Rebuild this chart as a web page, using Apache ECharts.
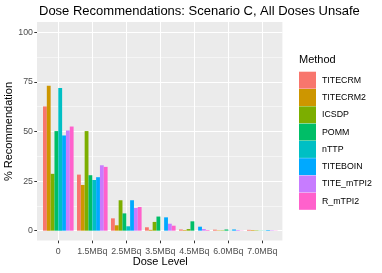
<!DOCTYPE html>
<html><head><meta charset="utf-8">
<script src="https://cdn.jsdelivr.net/npm/echarts@6/dist/echarts.min.js"></script>
<style>html,body{margin:0;padding:0;background:#fff}#c{width:382px;height:273px}</style>
</head><body><div id="c"></div>
<script>
var doses = ['0', '1.5MBq', '2.5MBq', '3.5MBq', '4.5MBq', '6.0MBq', '7.0MBq'];
var methods = ['TITECRM', 'TITECRM2', 'ICSDP', 'POMM', 'nTTP', 'TITEBOIN', 'TITE_mTPI2', 'R_mTPI2'];
var colors = ['#F8766D', '#CD9600', '#7CAE00', '#00BE67', '#00BFC4', '#00A9FF', '#C77CFF', '#FF61CC'];
var TITECRM    = [62.5, 28.2, 6.2, 1.7, 0.6, 0.5, 0.4];
var TITECRM2   = [72.9, 23.0, 2.7, 0.4, 0.3, 0.2, 0.3];
var ICSDP      = [28.6, 50.1, 15.3, 4.4, 0.8, 0.2, 0.2];
var POMM       = [50.1, 27.9, 8.7, 7.1, 4.7, 0.6, 0.1];
var nTTP       = [71.8, 25.5, 2.2, 0.0, 0.0, 0.1, 0.1];
var TITEBOIN   = [47.9, 26.9, 15.3, 6.7, 2.0, 0.6, 0.3];
var TITE_mTPI2 = [50.4, 32.9, 11.4, 3.5, 0.8, 0.3, 0.2];
var R_mTPI2    = [52.4, 32.1, 11.9, 2.5, 0.3, 0.1, 0.1];
var yTicks = [0, 25, 50, 75, 100];
var values = [TITECRM, TITECRM2, ICSDP, POMM, nTTP, TITEBOIN, TITE_mTPI2, R_mTPI2];

var FONT = 'Liberation Sans';
var chart = echarts.init(document.getElementById('c'), null, {renderer: 'canvas'});
var series = methods.map(function (m, i) {
  return {
    name: m, type: 'bar', xAxisIndex: 2, yAxisIndex: 2,
    data: values[i], barGap: '0%', barCategoryGap: '10%',
    itemStyle: {color: colors[i], borderWidth: 0},
    emphasis: {disabled: true}, animation: false
  };
});
chart.setOption({
  animation: false,
  textStyle: {fontFamily: FONT},
  title: [
    {text: 'Dose Recommendations: Scenario C, All Doses Unsafe', left: 39, top: 4.5, padding: 0,
     textStyle: {fontFamily: FONT, fontSize: 13, fontWeight: 'normal', color: '#000'}},
    {text: 'Method', left: 299, top: 54.5, padding: 0,
     textStyle: {fontFamily: FONT, fontSize: 11, fontWeight: 'normal', color: '#000'}}
  ],
  legend: {
    orient: 'vertical', left: 299, top: 71.7, padding: 0, itemWidth: 17, itemHeight: 17, itemGap: 0.3,
    icon: 'rect', data: methods, selectedMode: false,
    textStyle: {fontFamily: FONT, fontSize: 8.8, color: '#000', padding: [0, 0, 0, 1]}
  },
  grid: [
    {left: 37, top: 22, width: 245.4, height: 218.6, show: true, backgroundColor: '#EBEBEB', borderWidth: 0, outerBoundsMode: 'none'},
    {left: 37, top: 32.3, width: 245.4, height: 198.4, outerBoundsMode: 'none'},
    {left: 41.3, top: 22, width: 238, height: 218.6, outerBoundsMode: 'none'}
  ],
  xAxis: [
    {gridIndex: 0, type: 'value', show: false},
    {gridIndex: 1, type: 'value', show: false},
    {gridIndex: 2, type: 'category', data: doses,
     axisLine: {show: false, onZero: false},
     axisTick: {show: true, interval: 0, alignWithLabel: true, length: 2.7, lineStyle: {color: '#333', width: 1}},
     axisLabel: {interval: 0, fontFamily: FONT, fontSize: 8.8, color: '#4D4D4D', margin: 6},
     splitLine: {show: true, interval: 0, alignWithLabel: true, lineStyle: {color: '#fff', width: 1.1}},
     name: 'Dose Level', nameLocation: 'middle', nameGap: 15.5, nameMoveOverlap: false,
     nameTextStyle: {fontFamily: FONT, fontSize: 11, color: '#000'}}
  ],
  yAxis: [
    {gridIndex: 0, type: 'value', show: false},
    {gridIndex: 1, type: 'value', min: 0, max: 100, interval: 25,
     axisLine: {show: false, onZero: false},
     axisTick: {show: true, length: 2.7, lineStyle: {color: '#333', width: 1}},
     axisLabel: {fontFamily: FONT, fontSize: 8.8, color: '#4D4D4D', margin: 4,
                 formatter: function (v) { return yTicks.indexOf(v) >= 0 ? String(v) : ''; }},
     splitLine: {show: true, lineStyle: {color: '#fff', width: 1.1}},
     minorTick: {show: false, splitNumber: 2},
     minorSplitLine: {show: true, lineStyle: {color: '#fff', width: 0.5}},
     name: '% Recommendation', nameLocation: 'middle', nameGap: 23, nameMoveOverlap: false,
     nameTextStyle: {fontFamily: FONT, fontSize: 11, color: '#000'}},
    {gridIndex: 2, type: 'value', min: -5, max: 105, show: false}
  ],
  series: series
});
</script></body></html>
